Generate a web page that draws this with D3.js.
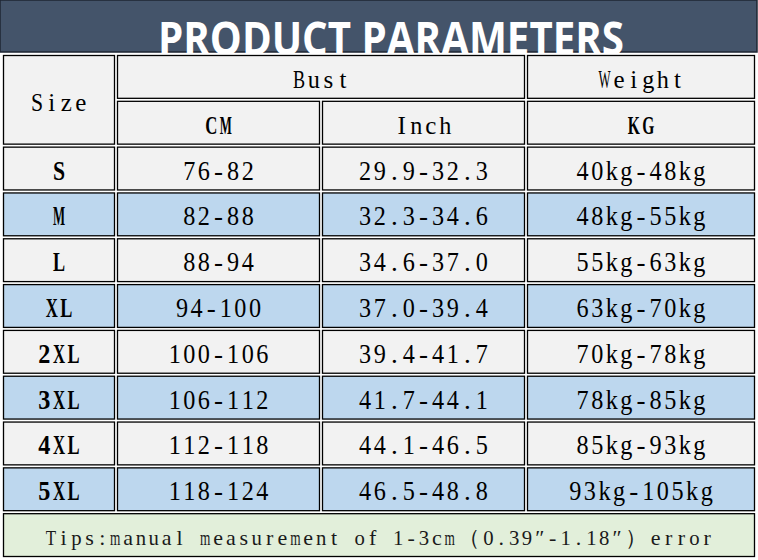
<!DOCTYPE html>
<html>
<head>
<meta charset="utf-8">
<script src="https://cdn.jsdelivr.net/npm/d3@7"></script>
<style>
  body { margin: 0; background: #fff; }
  svg { display: block; }
</style>
</head>
<body>
<script>
// DATA
const title = "PRODUCT PARAMETERS";
const groupHeaders = ["Size", "Bust", "Weight"];
const unitHeaders = ["CM", "Inch", "KG"];
const sizes = ["S", "M", "L", "XL", "2XL", "3XL", "4XL", "5XL"];
const bustCm = ["76-82", "82-88", "88-94", "94-100", "100-106", "106-112", "112-118", "118-124"];
const bustInch = ["29.9-32.3", "32.3-34.6", "34.6-37.0", "37.0-39.4", "39.4-41.7", "41.7-44.1", "44.1-46.5", "46.5-48.8"];
const weightKg = ["40kg-48kg", "48kg-55kg", "55kg-63kg", "63kg-70kg", "70kg-78kg", "78kg-85kg", "85kg-93kg", "93kg-105kg"];
const tip = "Tips:manual measurement of 1-3cm\uFF080.39\u2033-1.18\u2033\uFF09error";

// D3
const W = 758, H = 560;
const svg = d3.select("body").append("svg")
    .attr("width", W)
    .attr("height", H);

const font = "'Liberation Serif', 'DejaVu Serif', serif";

// row keys: two header rows, one per size, tips row
const rowKeys = ["h1", "h2"].concat(sizes).concat(["tips"]);
const y = d3.scaleBand().domain(rowKeys).range([54, 558]);

// column edges (size | cm | inch | kg)
const x = d3.scaleOrdinal().domain([0, 1, 2, 3, 4]).range([2, 116, 321, 526, 756]);

// banner
svg.append("rect")
    .attr("x", 0).attr("y", 0)
    .attr("width", 757).attr("height", 52)
    .attr("fill", "#44546a")
    .attr("stroke", "#1e2633")
    .attr("stroke-width", 1.5);

svg.append("text")
    .attr("x", 391).attr("y", 55)
    .attr("text-anchor", "middle")
    .attr("font-family", "'Open Sans', sans-serif")
    .attr("font-weight", 700)
    .attr("font-size", 47)
    .attr("textLength", 466)
    .attr("lengthAdjust", "spacingAndGlyphs")
    .attr("fill", "#ffffff")
    .text(title);

// build cells
const cells = [];
cells.push({c0: 0, c1: 1, r0: "h1", r1: "h2", text: groupHeaders[0], fill: "#f2f2f2", size: 25, dy: 3});
cells.push({c0: 1, c1: 3, r0: "h1", r1: "h1", text: groupHeaders[1], fill: "#f2f2f2", size: 25, dy: 3});
cells.push({c0: 3, c1: 4, r0: "h1", r1: "h1", text: groupHeaders[2], fill: "#f2f2f2", size: 25, dy: 3});
unitHeaders.forEach((u, i) => {
  cells.push({c0: i + 1, c1: i + 2, r0: "h2", r1: "h2", text: u, fill: "#f2f2f2", size: 25, dy: 3,
    bold: u !== "Inch"});
});
sizes.forEach((s, i) => {
  const fill = i % 2 ? "#bdd7ee" : "#f2f2f2";
  [s, bustCm[i], bustInch[i], weightKg[i]].forEach((v, j) => {
    cells.push({c0: j, c1: j + 1, r0: s, r1: s, text: v, fill: fill, size: 27, dy: 2, bold: j === 0});
  });
});
cells.push({c0: 0, c1: 4, r0: "tips", r1: "tips", text: tip, fill: "#e2efda", size: 22, dy: 2, tips: true});

const g = svg.append("g");

g.selectAll("rect.cell").data(cells)
  .enter().append("rect")
    .attr("class", "cell")
    .attr("x", d => x(d.c0) + 1.5)
    .attr("y", d => y(d.r0) + 1.5)
    .attr("width", d => x(d.c1) - x(d.c0) - 3)
    .attr("height", d => y(d.r1) + y.bandwidth() - y(d.r0) - 3)
    .attr("fill", d => d.fill)
    .attr("stroke", "#000")
    .attr("stroke-width", 1.3);

// the original uses a fixed-pitch font: lay glyphs out on a fixed grid,
// full-width characters take two slots
const isWide = ch => ch.charCodeAt(0) >= 0xFF00;

g.selectAll("g.label").data(cells)
  .enter().append("g")
    .attr("class", "label")
    .each(function(d) {
      const pitch = d.tips ? 12.87 : 14.6;
      const chars = Array.from(d.text);
      const units = d3.sum(chars, ch => isWide(ch) ? 2 : 1);
      const cx = (x(d.c0) + x(d.c1)) / 2;
      const cy = (y(d.r0) + y(d.r1) + y.bandwidth()) / 2 + d.dy;
      let pos = cx - units * pitch / 2;
      chars.forEach(ch => {
        const u = isWide(ch) ? 2 : 1;
        if (ch !== " ") {
          const t = d3.select(this).append("text")
              .attr("x", pos + u * pitch / 2)
              .attr("y", cy)
              .attr("text-anchor", "middle")
              .attr("dominant-baseline", "central")
              .attr("font-family", font)
              .attr("font-size", d.size)
              .attr("font-weight", d.bold ? 700 : 400)
              .attr("fill", d.tips ? "#1a1a1a" : "#000")
              .text(ch);
          const maxW = u * pitch - 2.5;
          if (t.node().getComputedTextLength() > maxW) {
            t.attr("textLength", maxW).attr("lengthAdjust", "spacingAndGlyphs");
          }
        }
        pos += u * pitch;
      });
    });
</script>
</body>
</html>
